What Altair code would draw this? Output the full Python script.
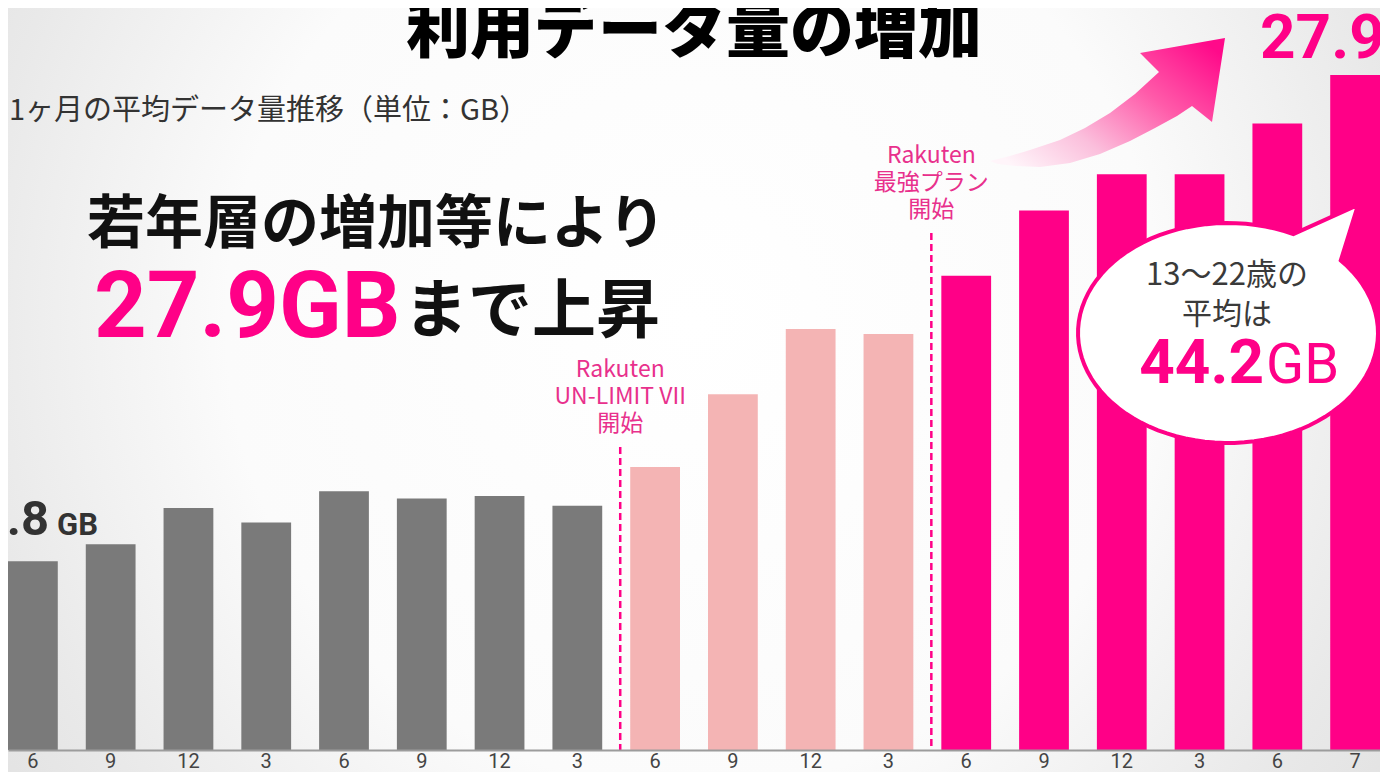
import altair as alt
import pandas as pd
import numpy as np

# ---------------- data ----------------
periods = ["2020-06", "2020-09", "2020-12", "2021-03", "2021-06", "2021-09",
           "2021-12", "2022-03", "2022-06", "2022-09", "2022-12", "2023-03",
           "2023-06", "2023-09", "2023-12", "2024-03", "2024-06", "2024-07"]
values = [7.8, 8.5, 10.0, 9.4, 10.7, 10.4, 10.5, 10.1, 11.7, 14.7, 17.4, 17.2,
          19.6, 22.3, 23.8, 23.8, 25.9, 27.9]
phases = ["before"] * 8 + ["unlimit"] * 4 + ["saikyo"] * 6
phase_names = ["before", "unlimit", "saikyo"]
phase_colors = ["#7a7a7a", "#f4b4b4", "#ff0087"]

plan_starts = ["2022-06", "2023-06"]
plan_labels = ["Rakuten\nUN-LIMIT VII\n開始", "Rakuten\n最強プラン\n開始"]

title_text = "利用データ量の増加"
subtitle_text = "1ヶ月の平均データ量推移（単位：GB）"
headline1 = "若年層の増加等により"
headline2a = "27.9GB"
headline2b = "まで上昇"
first_val = "7.8"
last_val = "27.9"
unit = "GB"
bubble_l1 = "13～22歳の"
bubble_l2 = "平均は"
bubble_val = "44.2"

# ---------------- layout ----------------
W, H, PB = 1372, 742, 22
YMAX = 30.67
JP = "Noto Sans CJK JP"
NUM = "Roboto"
MAG = "#ff0087"
LBL = "#e8308c"

df = pd.DataFrame({"period": periods, "value": values, "phase": phases})

xscale = alt.Scale(domain=periods, paddingInner=0.36, paddingOuter=0)
xaxis = alt.Axis(title=None, ticks=False, labelAngle=0, grid=False, zindex=1,
                 labelExpr="toNumber(split(datum.value, '-')[1])",
                 labelFont=NUM, labelFontSize=20, labelColor="#444444",
                 labelBaseline="alphabetic", labelPadding=17,
                 domainColor="#9c9c9c", domainWidth=2)
yscale = alt.Scale(domain=[0, YMAX], nice=False, zero=True)

one = pd.DataFrame({"a": [0]})

# background
bg_grad = {"gradient": "radial", "x1": 0.5, "y1": 0.45, "r1": 0,
           "x2": 0.5, "y2": 0.45, "r2": 0.62,
           "stops": [{"offset": 0, "color": "#ffffff"},
                     {"offset": 0.55, "color": "#fbfbfb"},
                     {"offset": 0.85, "color": "#e9e9e9"},
                     {"offset": 1, "color": "#e2e2e2"}]}
background = alt.Chart(one).mark_rect(fill=bg_grad).encode(
    x=alt.value(0), x2=alt.value(W), y=alt.value(0), y2=alt.value(H + PB))

bars = alt.Chart(df).mark_bar().encode(
    x=alt.X("period:N", scale=xscale, axis=xaxis),
    y=alt.Y("value:Q", scale=yscale, axis=None),
    color=alt.Color("phase:N", scale=alt.Scale(domain=phase_names, range=phase_colors), legend=None),
)


def plan_layers(i, top_y, label_y):
    d = pd.DataFrame({"period": [plan_starts[i]], "label": [plan_labels[i]]})
    rule = alt.Chart(d).mark_rule(color=MAG, strokeWidth=2.5, strokeDash=[7, 4], xOffset=-10).encode(
        x=alt.X("period:N", scale=xscale, axis=xaxis, bandPosition=0),
        y=alt.value(top_y), y2=alt.value(H))
    lab = alt.Chart(d).mark_text(color=LBL, font=JP, fontSize=23, lineBreak="\n", lineHeight=27,
                                 align="center", baseline="middle", xOffset=-10).encode(
        x=alt.X("period:N", scale=xscale, axis=xaxis, bandPosition=0),
        y=alt.value(label_y), text="label:N")
    return [rule, lab]


def txt(text, x, y, size, color, weight="normal", font=JP, align="left", baseline="alphabetic"):
    return alt.Chart(pd.DataFrame({"t": [text]})).mark_text(
        font=font, fontSize=size, fontWeight=weight, color=color, align=align, baseline=baseline
    ).encode(x=alt.value(x), y=alt.value(y), text="t:N")


# arrow (custom symbol path, page coords -> normalized)
arrow_pts = [(990, 161), (1010, 156), (1030, 150), (1060, 140), (1085, 128), (1110, 113),
             (1135, 94), (1159, 72), (1140, 53), (1225, 38), (1212, 122), (1192, 106),
             (1177, 116), (1155, 128), (1130, 141), (1100, 154), (1070, 163), (1040, 167),
             (1015, 166), (998, 164)]
acx, acy, aR = 1108, 100, 120
arrow_path = "M " + " L ".join(f"{(px - acx) / aR:.4f} {(py - acy) / aR:.4f}" for px, py in arrow_pts) + " Z"
arrow_grad = {"gradient": "linear", "x1": 0, "y1": 0.85, "x2": 1, "y2": 0.15,
              "stops": [{"offset": 0, "color": "#fff5fa"},
                        {"offset": 0.3, "color": "#fbbfdc"},
                        {"offset": 0.65, "color": "#ff5aa9"},
                        {"offset": 1, "color": "#ff0a8a"}]}
arrow = alt.Chart(one).mark_point(shape=arrow_path, filled=True, fill=arrow_grad, opacity=1,
                                  size=(2 * aR) ** 2).encode(
    x=alt.value(acx - 8), y=alt.value(acy - 8))

# speech bubble
bcx, bcy, brx, bry, bR = 1228, 333, 150, 110, 160
ts = np.linspace(-0.72, 2 * np.pi - 1.12, 90)
bub_pts = [(bcx + brx * np.cos(t), bcy + bry * np.sin(t)) for t in ts] + [(1358, 205)]
bubble_path = "M " + " L ".join(f"{(px - bcx) / bR:.4f} {(py - bcy) / bR:.4f}" for px, py in bub_pts) + " Z"
bubble = alt.Chart(one).mark_point(shape=bubble_path, filled=True, fill="#ffffff", stroke=MAG,
                                   strokeWidth=4, opacity=1, size=(2 * bR) ** 2).encode(
    x=alt.value(bcx - 8), y=alt.value(bcy - 8))

layers = [background, bars]
layers += plan_layers(0, 439, 362)
layers += plan_layers(1, 225, 148)
layers += [
    txt(title_text, 686, 44, 64, "#000000", weight=900, align="center"),
    txt(subtitle_text, 1, 112, 29, "#333333"),
    txt(headline1, 79, 235, 58, "#111111", weight="bold"),
    txt(headline2a, 86, 329, 92, MAG, weight="bold", font=NUM),
    txt(headline2b, 396, 324, 64, "#111111", weight="bold"),
    txt(first_val, 41, 527, 49, "#333333", weight="bold", font=NUM, align="right"),
    txt(unit, 49, 527, 31, "#333333", weight="bold", font=NUM),
    txt(last_val, 1252, 50, 62, MAG, weight="bold", font=NUM),
    arrow,
    bubble,
    txt(bubble_l1, 1219, 268, 31, "#3a3a3a", align="center", baseline="middle"),
    txt(bubble_l2, 1219, 307, 30, "#3a3a3a", align="center", baseline="middle"),
    txt(bubble_val, 1256, 375, 62, MAG, weight="bold", font=NUM, align="right"),
    txt(unit, 1258, 375, 56, MAG, weight="normal", font=NUM),
]

chart = alt.layer(*layers).properties(
    width=W, height=H,
    autosize=alt.AutoSizeParams(type="none"),
    padding={"left": 0, "top": 0, "right": 0, "bottom": PB},
    background="#eeeeee",
).configure_view(strokeWidth=0)

chart.save("out.html", embed_options={"renderer": "svg", "actions": False})
